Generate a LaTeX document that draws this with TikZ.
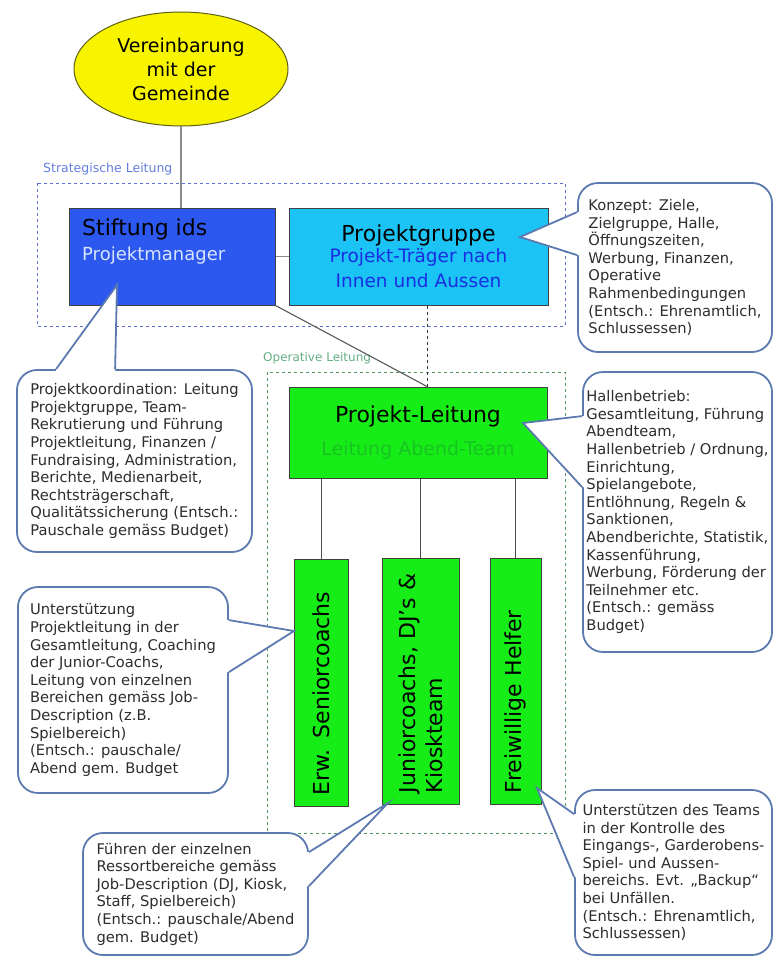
\documentclass[tikz,border=0pt]{standalone}
\usepackage{fontspec}
\setmainfont{DejaVu Sans}
\usetikzlibrary{shapes.geometric,positioning,calc}

\definecolor{gelb}{RGB}{248,244,0}
\definecolor{oliv}{RGB}{95,95,20}
\definecolor{koenigsblau}{RGB}{45,88,240}
\definecolor{hellblau}{RGB}{215,228,255}
\definecolor{cyanblau}{RGB}{28,196,246}
\definecolor{tiefblau}{RGB}{25,45,225}
\definecolor{hellgruen}{RGB}{22,236,22}
\definecolor{dunkelgruen}{RGB}{24,196,34}
\definecolor{blaugrau}{RGB}{92,122,176}
\definecolor{textgrau}{RGB}{45,45,45}
\definecolor{rahmenblau}{RGB}{96,112,210}
\definecolor{rahmengruen}{RGB}{80,150,95}
\definecolor{labelblau}{RGB}{100,125,225}
\definecolor{labelgruen}{RGB}{100,175,130}

\begin{document}
\begin{tikzpicture}
    [x=1pt,y=-1pt,
      box/.style={draw=black!75,line width=1pt,inner sep=0pt},
      gruenbox/.style={box,fill=hellgruen,rotate=90,align=left,font=\fontsize{22}{27}\selectfont},
      bubble/.style={draw=blaugrau,line width=1.8pt,fill=white,rounded corners=20pt,align=left,text=textgrau,inner sep=0pt,font=\fontsize{14.7}{17.6}\selectfont},
      zeiger/.style={draw=blaugrau,line width=1.8pt,line join=miter},
      verbinder/.style={draw=black!45,line width=1.8pt},
      rahmen/.style={dashed,line width=0.9pt},
    ]
    \useasboundingbox (0,0) rectangle (773,960);

    \draw[rahmen,rahmenblau] (37,183) rectangle (565,326);
    \node[labelblau,anchor=base west,inner sep=0pt,font=\fontsize{12.5}{15}\selectfont] (strategisch) at (43,172) {Strategische Leitung};
    \draw[rahmen,rahmengruen] (267,372) rectangle (565,833);
    \node[labelgruen,anchor=base west,inner sep=0pt,font=\fontsize{12}{15}\selectfont] (operativ) at (263,361) {Operative Leitung};

    \node[ellipse,draw=oliv,line width=1pt,fill=gelb,minimum width=214pt,minimum height=114pt,inner sep=0pt,align=center,font=\fontsize{19}{24}\selectfont] (gemeinde) at (181,69) {Vereinbarung\\mit der\\Gemeinde};

    \node[box,fill=koenigsblau,minimum width=206pt,minimum height=97pt] (stiftung) at (172,256.5) {};
    \node[anchor=north west,inner sep=0pt,align=left,font=\fontsize{22}{25}\selectfont] (stiftungtext) at (82,219) {Stiftung ids\\{\color{hellblau}\fontsize{18}{25}\selectfont Projektmanager}};
    \node[box,fill=cyanblau,minimum width=259pt,minimum height=97pt,align=center,font=\fontsize{18.5}{25}\selectfont] (projektgruppe) at (418.5,256.5) {{\fontsize{22}{25}\selectfont Projektgruppe}\\[-3.5pt]{\color{tiefblau}Projekt-Träger nach}\\{\color{tiefblau}Innen und Aussen}};
    \node[box,fill=hellgruen,minimum width=258pt,minimum height=91pt,align=center,font=\fontsize{22}{33}\selectfont] (leitung) at (418,432.5) {Projekt-Leitung\\{\color{dunkelgruen}\fontsize{19}{33}\selectfont Leitung Abend-Team}};

    \node[gruenbox,minimum width=247pt,minimum height=54pt,text width=225pt] (senior) at (321,682.5) {Erw. Seniorcoachs};
    \node[gruenbox,minimum width=246pt,minimum height=77pt,text width=224pt] (junior) at (420.5,681) {Juniorcoachs, DJ’s \&\\Kioskteam};
    \node[gruenbox,minimum width=246pt,minimum height=51pt,text width=224pt] (helfer) at (515.5,681) {Freiwillige Helfer};

    \draw[verbinder] (gemeinde.south) -- (gemeinde.south |- stiftung.north);
    \draw[verbinder] (stiftung.east) -- (projektgruppe.west);
    \coordinate (gruppenfuss) at ($(projektgruppe.south)+(8.5,0)$);
    \draw[black!80,dashed,line width=1pt] (gruppenfuss) -- (gruppenfuss |- leitung.north);
    \draw[black!65,line width=1.1pt] (stiftung.south east) -- (gruppenfuss |- leitung.north);
    \foreach \team in {senior,junior,helfer}
      \draw[black!70,line width=1pt] (\team.east) -- (\team.east |- leitung.south);

    \node[bubble,minimum width=194pt,minimum height=169pt] (konzept) at (675,267.5) {Konzept: Ziele,\\Zielgruppe, Halle,\\Öffnungszeiten,\\Werbung, Finanzen,\\Operative\\Rahmenbedingungen\\(Entsch.: Ehrenamtlich,\\Schlussessen)};
    \node[bubble,minimum width=235pt,minimum height=182pt] (koord) at (134.5,461) {Projektkoordination: Leitung\\Projektgruppe, Team-\\Rekrutierung und Führung\\Projektleitung, Finanzen /\\Fundraising, Administration,\\Berichte, Medienarbeit,\\Rechtsträgerschaft,\\Qualitätssicherung (Entsch.:\\Pauschale gemäss Budget)};
    \node[bubble,minimum width=189pt,minimum height=280pt] (hallen) at (677.5,512) {Hallenbetrieb:\\Gesamtleitung, Führung\\Abendteam,\\Hallenbetrieb / Ordnung,\\Einrichtung,\\Spielangebote,\\Entlöhnung, Regeln \&\\Sanktionen,\\Abendberichte, Statistik,\\Kassenführung,\\Werbung, Förderung der\\Teilnehmer etc.\\(Entsch.: gemäss\\Budget)};
    \node[bubble,minimum width=210pt,minimum height=206pt] (unterstuetzung) at (123,690) {Unterstützung\\Projektleitung in der\\Gesamtleitung, Coaching\\der Junior-Coachs,\\Leitung von einzelnen\\Bereichen gemäss Job-\\Description (z.B.\\Spielbereich)\\(Entsch.: pauschale/\\Abend gem. Budget};
    \node[bubble,minimum width=225pt,minimum height=122pt] (fuehren) at (195.5,894) {Führen der einzelnen\\Ressortbereiche gemäss\\Job-Description (DJ, Kiosk,\\Staff, Spielbereich)\\(Entsch.: pauschale/Abend\\gem. Budget)};
    \node[bubble,minimum width=197pt,minimum height=165pt] (kontrolle) at (673.5,872.5) {Unterstützen des Teams\\in der Kontrolle des\\Eingangs-, Garderobens-\\Spiel- und Aussen-\\bereichs. Evt. „Backup“\\bei Unfällen.\\(Entsch.: Ehrenamtlich,\\Schlussessen)};

    \coordinate (konzept-s) at (520,237);
    \coordinate (konzept-a) at ($(konzept.north west)+(0,30)$);
    \coordinate (konzept-b) at ($(konzept.north west)+(0,73)$);
    \coordinate (koord-s) at (117,285);
    \coordinate (koord-a) at ($(koord.north west)+(40,0)$);
    \coordinate (koord-b) at ($(koord.north west)+(99,0)$);
    \coordinate (hallen-s) at (523,423);
    \coordinate (hallen-a) at ($(hallen.north west)+(0,45)$);
    \coordinate (hallen-b) at ($(hallen.north west)+(0,116)$);
    \coordinate (unterstuetzung-s) at (294,631);
    \coordinate (unterstuetzung-a) at ($(unterstuetzung.north east)+(0,34)$);
    \coordinate (unterstuetzung-b) at ($(unterstuetzung.north east)+(0,86)$);
    \coordinate (fuehren-s) at (388,803);
    \coordinate (fuehren-a) at ($(fuehren.north east)+(0,20)$);
    \coordinate (fuehren-b) at ($(fuehren.north east)+(0,54)$);
    \coordinate (kontrolle-s) at (537,788);
    \coordinate (kontrolle-a) at ($(kontrolle.north west)+(0,25)$);
    \coordinate (kontrolle-b) at ($(kontrolle.north west)+(0,88)$);

    \foreach \name/\dx/\dy in {konzept/2.5/0,koord/0/2.5,hallen/2.5/0,unterstuetzung/-2.5/0,fuehren/-2.5/0,kontrolle/2.5/0}
    {
      \fill[white] (\name-a) -- (\name-s) -- (\name-b) -- ($(\name-b)+(\dx,\dy)$) -- ($(\name-a)+(\dx,\dy)$) -- cycle;
      \draw[zeiger] (\name-a) -- (\name-s) -- (\name-b);
    }
  \end{tikzpicture}
\end{document}
